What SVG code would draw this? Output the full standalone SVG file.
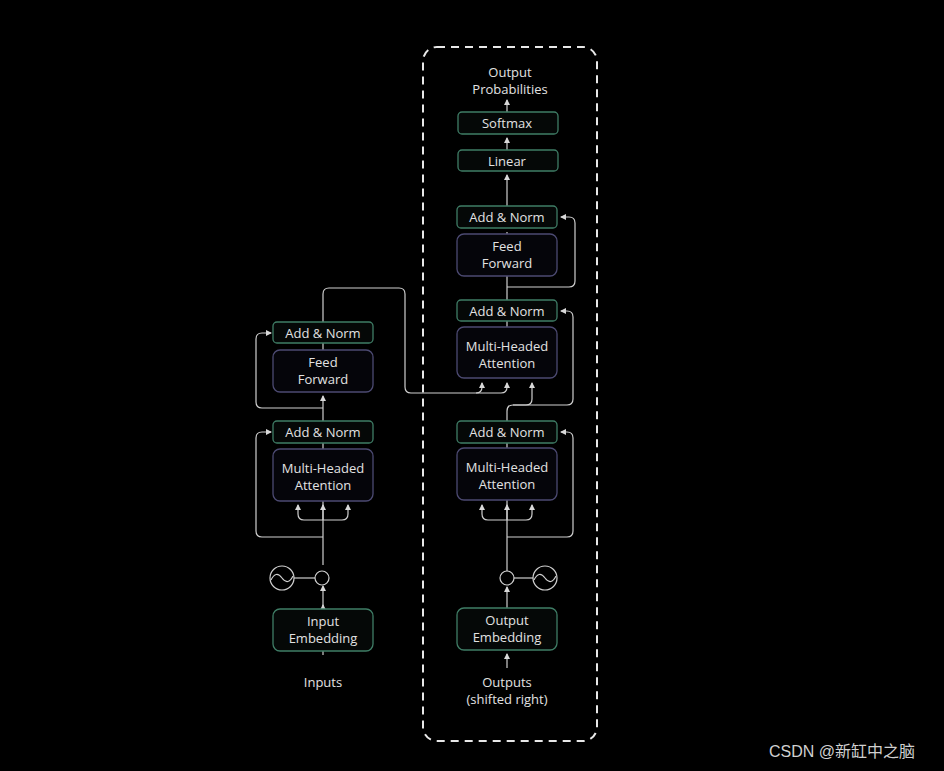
<svg xmlns="http://www.w3.org/2000/svg" width="944" height="771" viewBox="0 0 944 771">
<defs>
<marker id="ah" markerWidth="6" markerHeight="6" refX="5" refY="3" orient="auto" markerUnits="userSpaceOnUse"><path d="M0,0 L6,3 L0,6 z" fill="#d8d8d8"/></marker>
<style>
text{font-family:"Open Sans","Noto Sans",sans-serif;font-size:13px;fill:#e2e2e2;text-anchor:middle}
.an{fill:#050807;stroke:#3f7d66;stroke-width:1.3}
.bx{fill:#05050a;stroke:#4c4a72;stroke-width:1.3}
.em{fill:#050807;stroke:#3f7d66;stroke-width:1.3}
.ln{fill:none;stroke:#cfcfcf;stroke-width:1.2}
.ci{fill:none;stroke:#d0d0d0;stroke-width:1.2}
</style>
</defs>
<rect width="944" height="771" fill="#000"/>
<rect x="423" y="47" width="174" height="694" rx="14" fill="none" stroke="#e8e8e8" stroke-width="2" stroke-dasharray="8,6"/>
<g id="connectors">
<!-- encoder -->
<path class="ln" d="M323,655 V605" marker-end="url(#ah)"/>
<path class="ln" d="M323,565 V501"/>
<path class="ln" d="M323,609 V586" marker-end="url(#ah)"/>
<path class="ln" d="M294,578 H315"/>
<path class="ln" d="M323,520 H304 Q298,520 298,514 V505" marker-end="url(#ah)"/>
<path class="ln" d="M323,520 V505" marker-end="url(#ah)"/>
<path class="ln" d="M323,520 H342 Q348,520 348,514 V505" marker-end="url(#ah)"/>
<path class="ln" d="M323,537 H262 Q256,537 256,531 V438 Q256,432 262,432 H271" marker-end="url(#ah)"/>
<path class="ln" d="M323,443 V449"/>
<path class="ln" d="M323,421 V396" marker-end="url(#ah)"/>
<path class="ln" d="M323,343 V350"/>
<path class="ln" d="M323,408 H262 Q256,408 256,402 V339 Q256,333 262,333 H271" marker-end="url(#ah)"/>
<path class="ln" d="M323,322 V294 Q323,288 329,288 H399 Q405,288 405,294 V387 Q405,393 411,393 H476 Q482,393 482,387 V383" marker-end="url(#ah)"/>
<path class="ln" d="M476,393 H501 Q507,393 507,387 V383" marker-end="url(#ah)"/>
<!-- decoder -->
<path class="ln" d="M507,668 V654" marker-end="url(#ah)"/>
<path class="ln" d="M507,608 V587" marker-end="url(#ah)"/>
<path class="ln" d="M514,578 H533"/>
<path class="ln" d="M507,571 V500"/>
<path class="ln" d="M507,520 H488 Q482,520 482,514 V505" marker-end="url(#ah)"/>
<path class="ln" d="M507,520 V505" marker-end="url(#ah)"/>
<path class="ln" d="M507,520 H526 Q532,520 532,514 V505" marker-end="url(#ah)"/>
<path class="ln" d="M507,537 H567 Q573,537 573,531 V438 Q573,432 567,432 H561" marker-end="url(#ah)"/>
<path class="ln" d="M507,443 V448"/>
<path class="ln" d="M507,421 V411 Q507,405 513,405 H526 Q532,405 532,399 V383" marker-end="url(#ah)"/>
<path class="ln" d="M513,405 H567 Q573,405 573,399 V317 Q573,311 567,311 H561" marker-end="url(#ah)"/>
<path class="ln" d="M507,321 V327"/>
<path class="ln" d="M507,300 V232"/>
<path class="ln" d="M507,287 H569 Q575,287 575,281 V223 Q575,217 569,217 H561" marker-end="url(#ah)"/>
<path class="ln" d="M507,206 V175" marker-end="url(#ah)"/>
<path class="ln" d="M507,150 V138" marker-end="url(#ah)"/>
<path class="ln" d="M507,112 V100" marker-end="url(#ah)"/>
</g>
<g id="enc-pos"><circle class="ci" cx="282" cy="578" r="12"/><path class="ci" d="M271,580 Q276,570 282,578 Q288,586 293,576"/><circle class="ci" cx="322" cy="578" r="7"/></g>
<g id="dec-pos"><circle class="ci" cx="545" cy="578" r="12"/><path class="ci" d="M534,580 Q539,570 545,578 Q551,586 556,576"/><circle class="ci" cx="507" cy="578" r="7"/></g>
<g id="enc-embed"><rect class="em" x="273" y="609" width="100" height="42" rx="7"/><text x="323" y="626">Input</text><text x="323" y="643">Embedding</text></g>
<g id="enc-mha"><rect class="bx" x="273" y="449" width="100" height="52" rx="7"/><text x="323" y="473">Multi-Headed</text><text x="323" y="490">Attention</text></g>
<g id="enc-an1"><rect class="an" x="273" y="421" width="100" height="22" rx="4"/><text x="323" y="437">Add &amp; Norm</text></g>
<g id="enc-ff"><rect class="bx" x="273" y="350" width="100" height="42" rx="7"/><text x="323" y="367">Feed</text><text x="323" y="384">Forward</text></g>
<g id="enc-an2"><rect class="an" x="273" y="322" width="100" height="21" rx="4"/><text x="323" y="338">Add &amp; Norm</text></g>
<g id="inputs"><text x="323" y="687">Inputs</text></g>
<g id="dec-embed"><rect class="em" x="457" y="608" width="100" height="42" rx="7"/><text x="507" y="625">Output</text><text x="507" y="642">Embedding</text></g>
<g id="dec-mha1"><rect class="bx" x="457" y="448" width="100" height="52" rx="7"/><text x="507" y="472">Multi-Headed</text><text x="507" y="489">Attention</text></g>
<g id="dec-an1"><rect class="an" x="457" y="421" width="100" height="22" rx="4"/><text x="507" y="437">Add &amp; Norm</text></g>
<g id="dec-mha2"><rect class="bx" x="457" y="327" width="100" height="51" rx="7"/><text x="507" y="351">Multi-Headed</text><text x="507" y="368">Attention</text></g>
<g id="dec-an2"><rect class="an" x="457" y="300" width="100" height="21" rx="4"/><text x="507" y="316">Add &amp; Norm</text></g>
<g id="dec-ff"><rect class="bx" x="457" y="234" width="100" height="42" rx="7"/><text x="507" y="251">Feed</text><text x="507" y="268">Forward</text></g>
<g id="dec-an3"><rect class="an" x="457" y="206" width="100" height="22" rx="4"/><text x="507" y="222">Add &amp; Norm</text></g>
<g id="linear"><rect class="an" x="458" y="150" width="100" height="21" rx="4"/><text x="507" y="166">Linear</text></g>
<g id="softmax"><rect class="an" x="458" y="112" width="100" height="22" rx="4"/><text x="507" y="128">Softmax</text></g>
<g id="outprob"><text x="510" y="77">Output</text><text x="510" y="94">Probabilities</text></g>
<g id="outputs"><text x="507" y="687">Outputs</text><text x="507" y="704">(shifted right)</text></g>
<text x="842" y="757" style="font-family:'Liberation Sans','Noto Sans CJK SC',sans-serif;font-size:16px;fill:#d0d0d0">CSDN @新缸中之脑</text>
</svg>
